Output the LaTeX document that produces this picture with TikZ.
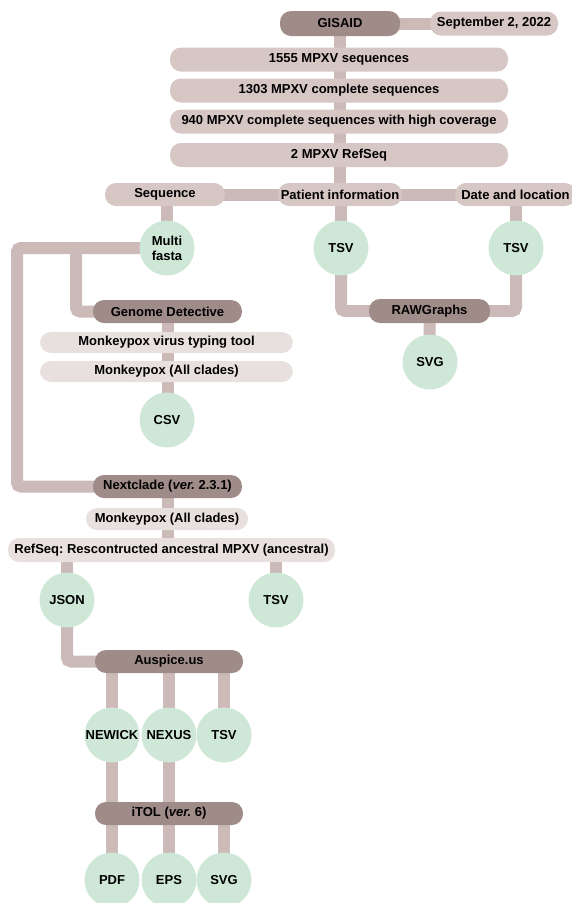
\documentclass[tikz,border=0pt]{standalone}
\usepackage{fontspec}
\setmainfont{Liberation Sans}
\usetikzlibrary{backgrounds}
\definecolor{toolcol}{HTML}{9F8B88}
\definecolor{infocol}{HTML}{D6C6C4}
\definecolor{paramcol}{HTML}{E8E0DF}
\definecolor{linkcol}{HTML}{CBBAB8}
\definecolor{filecol}{HTML}{CFE7D7}
\frenchspacing
\begin{document}
\begin{tikzpicture}[x=1pt,y=-1pt,
    every node/.style={font=\fontsize{13}{15}\selectfont\bfseries, inner sep=0pt},
    pill/.style={rectangle, rounded corners=11pt, minimum height=23pt},
    tool/.style={pill, fill=toolcol},
    info/.style={pill, fill=infocol},
    param/.style={pill, fill=paramcol},
    file/.style={circle, fill=filecol, minimum size=55pt, align=center},
    link/.style={draw=linkcol, line width=12pt, rounded corners=4pt}]
  \useasboundingbox (0,0) rectangle (572,903);
  % source and filtering
  \node[tool, minimum width=120pt, minimum height=25pt] (gisaid) at (340,23.5) {GISAID};
  \node[info, minimum width=128pt, minimum height=24pt] (day) at (494,23.5) {September 2, 2022};
  \node[info, minimum width=338pt, minimum height=24pt] (all) at (339,59.5) {1555 MPXV sequences};
  \node[info, minimum width=338pt, minimum height=24pt] (complete) at (339,90.5) {1303 MPXV complete sequences};
  \node[info, minimum width=338pt, minimum height=24pt] (coverage) at (339,121.5) {940 MPXV complete sequences with high coverage};
  \node[info, minimum width=338pt, minimum height=24pt] (refs) at (339,155) {2 MPXV RefSeq};
  \node[info, minimum width=120pt] (seq) at (165,194.5) {Sequence};
  \node[info, minimum width=124pt] (patient) at (340,194.5) {Patient information};
  \node[info, minimum width=121pt] (place) at (515.5,194.5) {Date and location};
  \node[file] (fasta) at (167,248) {Multi\\fasta};
  \node[file] (tsvpat) at (341,248) {TSV};
  \node[file] (tsvplace) at (516,248) {TSV};
  % metadata branch
  \node[tool, minimum width=121pt, minimum height=24pt] (raw) at (429.5,311) {RAWGraphs};
  \node[file] (svgraw) at (430,362) {SVG};
  % typing branch
  \node[tool, minimum width=149pt] (gd) at (167.5,311.5) {Genome Detective};
  \node[param, minimum width=253pt, minimum height=21pt] (typing) at (166.5,342.5) {Monkeypox virus typing tool};
  \node[param, minimum width=253pt, minimum height=21pt] (cladesgd) at (166.5,371.5) {Monkeypox (All clades)};
  \node[file] (csv) at (167,420) {CSV};
  % phylogeny branch
  \node[tool, minimum width=149pt] (nc) at (167.5,486.5) {Nextclade (\textit{ver.} 2.3.1)};
  \node[param, minimum width=162pt, minimum height=22pt] (cladesnc) at (167,519) {Monkeypox (All clades)};
  \node[param, minimum width=327pt, minimum height=24pt] (ancestral) at (171.5,550) {RefSeq: Rescontructed ancestral MPXV (ancestral)};
  \node[file] (json) at (67,600) {JSON};
  \node[file] (tsvnc) at (276,600) {TSV};
  \node[tool, minimum width=148pt] (aus) at (169,661.5) {Auspice.us};
  \node[file] (newick) at (112,735) {NEWICK};
  \node[file] (nexus) at (169,735) {NEXUS};
  \node[file] (tsvaus) at (224,735) {TSV};
  \node[tool, minimum width=148pt] (itol) at (169,813.5) {iTOL (\textit{ver.} 6)};
  \node[file] (pdf) at (112,880) {PDF};
  \node[file] (eps) at (169,880) {EPS};
  \node[file] (svgitol) at (224,880) {SVG};
  \coordinate (outer) at (17,248);
  \coordinate (inner) at (76,248);
  \begin{scope}[on background layer]
    \draw[link] (gisaid.center) -- (day.center);
    \draw[link] (gisaid.center) -- (patient.center);
    \draw[link] (seq.center) -- (place.center);
    \draw[link] (fasta.center) -- (fasta.center |- seq.center);
    \draw[link] (tsvpat.center) -- (tsvpat.center |- patient.center);
    \draw[link] (tsvplace.center) -- (tsvplace.center |- place.center);
    \draw[link] (tsvpat.center) |- (raw.center);
    \draw[link] (tsvplace.center) |- (raw.center);
    \draw[link] (raw.center) -- (svgraw.center);
    \draw[link] (fasta.center) -- (outer) |- (nc.center);
    \draw[link] (inner) |- (gd.center);
    \draw[link] (gd.center) -- (gd.center |- csv.center);
    \draw[link] (nc.center) -- (nc.center |- ancestral.center);
    \draw[link] (json.center) -- (json.center |- ancestral.center);
    \draw[link] (tsvnc.center) -- (tsvnc.center |- ancestral.center);
    \draw[link] (json.center) |- (aus.center);
    \foreach \f in {newick,nexus,tsvaus}
      \draw[link] (\f.center) -- (\f.center |- aus.center);
    \foreach \f in {newick,nexus}
      \draw[link] (\f.center) -- (\f.center |- itol.center);
    \foreach \f in {pdf,eps,svgitol}
      \draw[link] (\f.center) -- (\f.center |- itol.center);
  \end{scope}
\end{tikzpicture}
\end{document}
